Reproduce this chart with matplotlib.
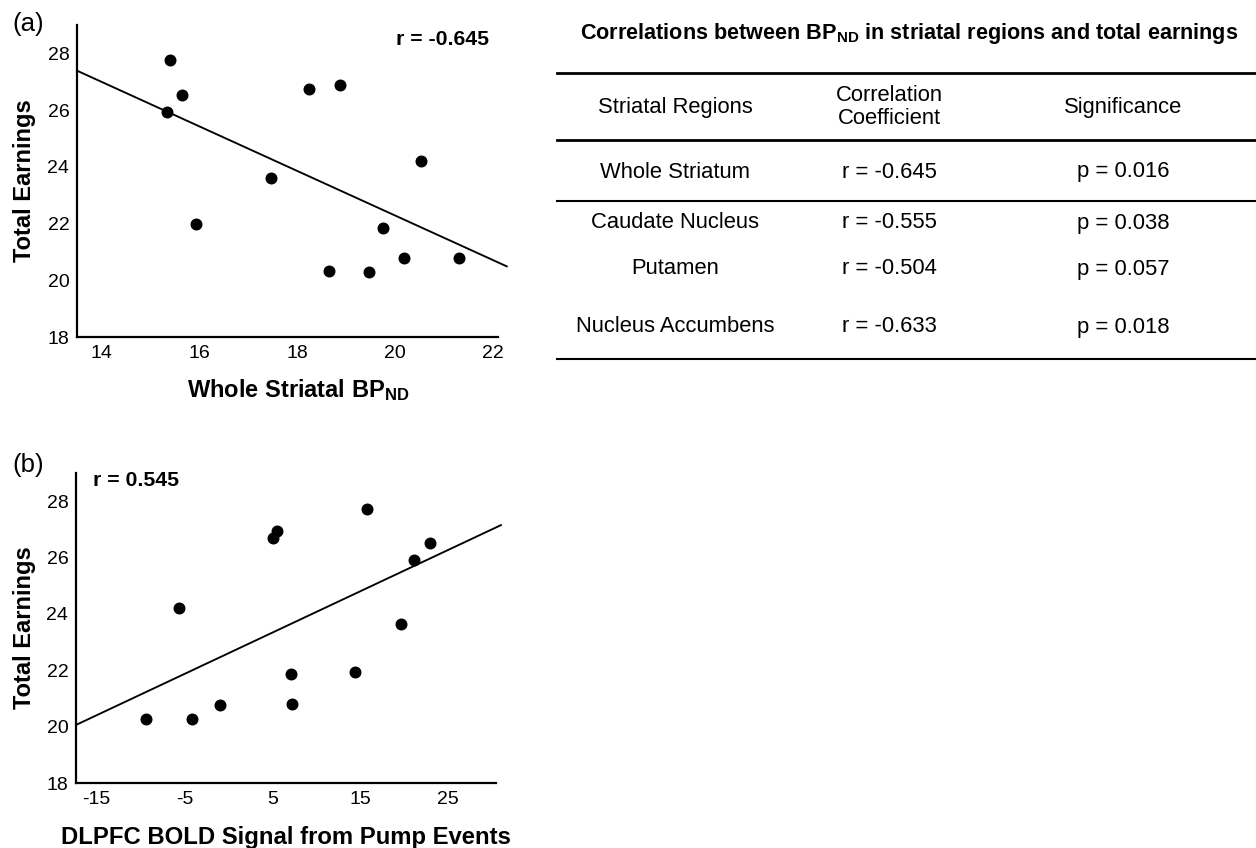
import matplotlib
matplotlib.use('Agg')
import matplotlib.pyplot as plt
from matplotlib.lines import Line2D

plt.rcParams['font.family'] = ['Liberation Sans', 'DejaVu Sans']
plt.rcParams['mathtext.fontset'] = 'custom'
plt.rcParams['mathtext.rm'] = 'Liberation Sans'
plt.rcParams['mathtext.bf'] = 'Liberation Sans:bold'
plt.rcParams['mathtext.it'] = 'Liberation Sans:italic'
plt.rcParams['axes.unicode_minus'] = False

# ---------------- data ----------------
bp_nd = [15.40, 15.64, 15.34, 15.93, 17.46, 18.23, 18.87, 18.64, 19.46, 19.74, 20.18, 20.52, 21.31]
earn_a = [27.77, 26.54, 25.93, 21.99, 23.61, 26.73, 26.87, 20.31, 20.29, 21.85, 20.77, 24.22, 20.77]
fit_a_x = [13.49, 22.28]
fit_a_y = [27.39, 20.49]

bold_signal = [-9.38, -4.10, -5.58, -0.91, 5.05, 5.51, 7.18, 7.29, 14.47, 15.76, 19.67, 21.16, 22.94]
earn_b = [20.28, 20.28, 24.22, 20.76, 26.68, 26.94, 21.86, 20.82, 21.95, 27.74, 23.63, 25.93, 26.53]
fit_b_x = [-17.35, 31.03]
fit_b_y = [20.06, 27.15]

r_a_label = 'r = -0.645'
r_b_label = 'r = 0.545'
xticks_a = [14, 16, 18, 20, 22]
xticks_b = [-15, -5, 5, 15, 25]
yticks = [18, 20, 22, 24, 26, 28]

table_title = r'Correlations between BP$_{\mathbf{ND}}$ in striatal regions and total earnings'
headers = ['Striatal Regions', 'Correlation\nCoefficient', 'Significance']
regions = ['Whole Striatum', 'Caudate Nucleus', 'Putamen', 'Nucleus Accumbens']
coefs = ['r = -0.645', 'r = -0.555', 'r = -0.504', 'r = -0.633']
sigs = ['p = 0.016', 'p = 0.038', 'p = 0.057', 'p = 0.018']

# ---------------- figure ----------------
W, H = 1256, 848
fig = plt.figure(figsize=(W / 100, H / 100), dpi=100)


def fx(px):
    return px / W


def fy(py):
    return 1 - py / H


ax_a = fig.add_axes([fx(77), fy(337), (498 - 77) / W, (337 - 25) / H])
ax_b = fig.add_axes([fx(76), fy(783), (496 - 76) / W, (783 - 473) / H])


def style(ax):
    for s in ['top', 'right']:
        ax.spines[s].set_visible(False)
    for s in ['left', 'bottom']:
        ax.spines[s].set_linewidth(1.6)
    ax.tick_params(length=0, labelsize=14, pad=5.5)
    ax.set_yticks(yticks)
    ax.set_ylim(18, 29)


# panel (a)
style(ax_a)
ax_a.scatter(bp_nd, earn_a, s=58, color='black', zorder=3, clip_on=False)
ax_a.plot(fit_a_x, fit_a_y, color='black', lw=1.35, clip_on=False)
ax_a.set_xlim(13.49, 22.1)
ax_a.set_xticks(xticks_a)
ax_a.set_xlabel(r'Whole Striatal BP$_{\mathbf{ND}}$', fontsize=17, fontweight='bold')
ax_a.xaxis.set_label_coords(0.525, -0.127)
ax_a.xaxis.label.set_va('top')
ax_a.set_ylabel('Total Earnings', fontsize=17, fontweight='bold')
ax_a.yaxis.set_label_coords(-0.098, 0.5)
ax_a.text(0.979, 0.952, r_a_label, transform=ax_a.transAxes, ha='right', va='center',
          fontsize=15.3, fontweight='bold')

# panel (b)
style(ax_b)
ax_b.scatter(bold_signal, earn_b, s=58, color='black', zorder=3, clip_on=False)
ax_b.plot(fit_b_x, fit_b_y, color='black', lw=1.35, clip_on=False)
ax_b.set_xlim(-17.35, 30.47)
ax_b.set_xticks(xticks_b)
ax_b.set_xlabel('DLPFC BOLD Signal from Pump Events', fontsize=17.2, fontweight='bold')
ax_b.xaxis.set_label_coords(0.5, -0.14)
ax_b.xaxis.label.set_va('top')
ax_b.set_ylabel('Total Earnings', fontsize=17, fontweight='bold')
ax_b.yaxis.set_label_coords(-0.096, 0.5)
ax_b.text(0.040, 0.975, r_b_label, transform=ax_b.transAxes, ha='left', va='center',
          fontsize=15.3, fontweight='bold')

# panel letters
fig.text(fx(12), fy(24), '(a)', fontsize=18.5, ha='left', va='center')
fig.text(fx(12), fy(465), '(b)', fontsize=18.5, ha='left', va='center')

# ---------------- table ----------------
fig.text(fx(909), fy(33), table_title, fontsize=15.6, fontweight='bold', ha='center', va='center')
col_x = [675, 889, 1123]
for cx, h in zip(col_x, headers):
    fig.text(fx(cx), fy(107), h, fontsize=15.8, ha='center', va='center', linespacing=1.15)

row_y = [172, 223, 269, 327]
for ry, reg, c, s in zip(row_y, regions, coefs, sigs):
    fig.text(fx(col_x[0]), fy(ry), reg, fontsize=15.8, ha='center', va='center')
    fig.text(fx(col_x[1]), fy(ry), c, fontsize=15.8, ha='center', va='center')
    fig.text(fx(col_x[2]), fy(ry), s, fontsize=15.8, ha='center', va='center')

for ly, lw in [(73, 2.0), (139.5, 2.0), (200.5, 1.5), (359, 1.5)]:
    fig.add_artist(Line2D([fx(557), fx(1256)], [fy(ly), fy(ly)], transform=fig.transFigure,
                          color='black', lw=lw))

fig.savefig('out.png', dpi=100)
